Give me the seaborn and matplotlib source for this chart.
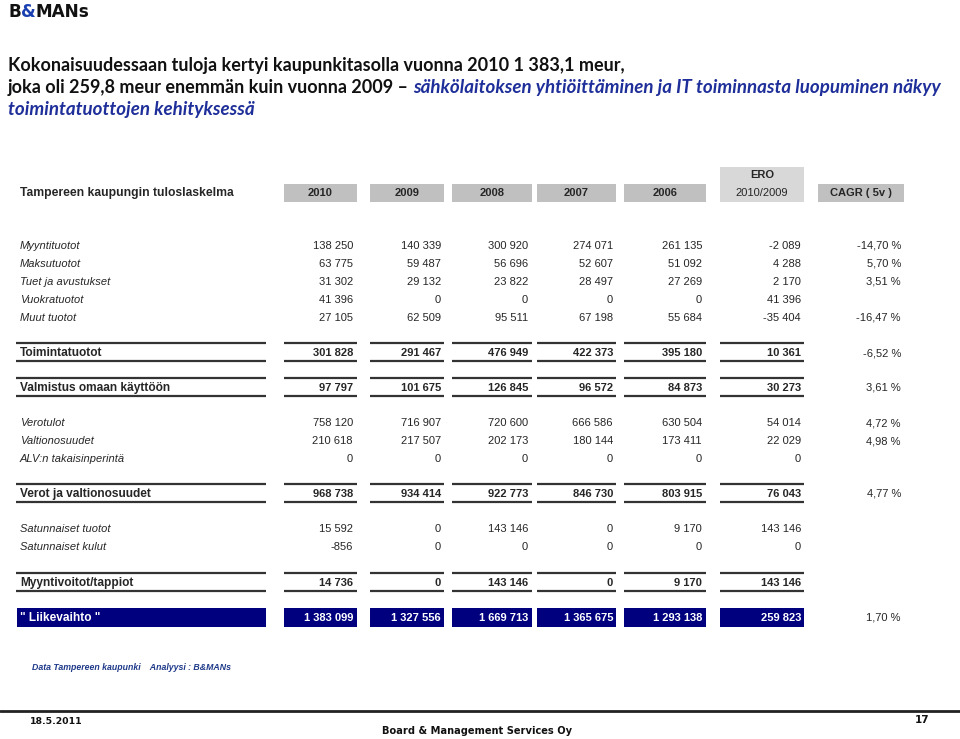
import matplotlib
matplotlib.use("Agg")
import matplotlib.pyplot as plt
import seaborn as sns
from matplotlib.patches import Rectangle

sns.set_theme(style="white")
plt.rcParams["font.family"] = ["Liberation Sans", "DejaVu Sans"]

# ---------------- data ----------------
years = ["2010", "2009", "2008", "2007", "2006"]
row_labels = ["Myyntituotot", "Maksutuotot", "Tuet ja avustukset", "Vuokratuotot", "Muut tuotot",
              "Toimintatuotot", "Valmistus omaan käyttöön",
              "Verotulot", "Valtionosuudet", "ALV:n takaisinperintä",
              "Verot ja valtionosuudet",
              "Satunnaiset tuotot", "Satunnaiset kulut",
              "Myyntivoitot/tappiot", "\" Liikevaihto \""]
row_kind = ["item", "item", "item", "item", "item",
            "total", "total",
            "item", "item", "item",
            "total",
            "item", "item",
            "total", "main"]
myyntituotot = [138250, 140339, 300920, 274071, 261135]
maksutuotot = [63775, 59487, 56696, 52607, 51092]
tuet = [31302, 29132, 23822, 28497, 27269]
vuokratuotot = [41396, 0, 0, 0, 0]
muut_tuotot = [27105, 62509, 95511, 67198, 55684]
toimintatuotot = [301828, 291467, 476949, 422373, 395180]
valmistus = [97797, 101675, 126845, 96572, 84873]
verotulot = [758120, 716907, 720600, 666586, 630504]
valtionosuudet = [210618, 217507, 202173, 180144, 173411]
alv = [0, 0, 0, 0, 0]
verot_valtion = [968738, 934414, 922773, 846730, 803915]
satunnaiset_tuotot = [15592, 0, 143146, 0, 9170]
satunnaiset_kulut = [-856, 0, 0, 0, 0]
myyntivoitot = [14736, 0, 143146, 0, 9170]
liikevaihto = [1383099, 1327556, 1669713, 1365675, 1293138]
ero = [-2089, 4288, 2170, 41396, -35404, 10361, 30273, 54014, 22029, 0, 76043,
       143146, 0, 143146, 259823]
cagr = [-14.70, 5.70, 3.51, None, -16.47, -6.52, 3.61, 4.72, 4.98, None, 4.77,
        None, None, None, 1.70]

table_values = [myyntituotot, maksutuotot, tuet, vuokratuotot, muut_tuotot,
                toimintatuotot, valmistus, verotulot, valtionosuudet, alv,
                verot_valtion, satunnaiset_tuotot, satunnaiset_kulut,
                myyntivoitot, liikevaihto]

# ---------------- layout ----------------
W, H = 960, 739
fig = plt.figure(figsize=(W / 100, H / 100), dpi=100)
ax = fig.add_axes([0, 0, 1, 1])
ax.set_xlim(0, W)
ax.set_ylim(H, 0)
ax.axis("off")
renderer = fig.canvas.get_renderer()


def width_px(t):
    return t.get_window_extent(renderer=renderer).width


def fitted(x, y, s, target_w, **kw):
    t = ax.text(x, y, s, **kw)
    w = width_px(t)
    t.set_fontsize(t.get_fontsize() * target_w / w)
    return t


def pieces(x, y, parts, **kw):
    """Draw consecutive coloured/styled runs of text starting at x."""
    for s, extra in parts:
        opts = dict(kw)
        opts.update(extra)
        t = ax.text(x, y, s, ha="left", **opts)
        x += width_px(t)
    return x


NAVY = "#00007f"
BLUE = "#1f2f9a"
GREY = "#c0c0c0"
LGREY = "#d8d8d8"
LINE = "#333333"

# logo
pieces(8, 12, [("B", {}), ("&", {"color": "#1a3fb0"}), ("MANs", {})],
       fontsize=12.2, fontweight="bold", family="DejaVu Sans", va="center", color="#111111")

# title
tkw = dict(fontweight="bold", family=["Lato", "DejaVu Sans"], va="center", ha="left", color="#111111")
t0 = fitted(8, 65, "Kokonaisuudessaan tuloja kertyi kaupunkitasolla vuonna 2010 1 383,1 meur,", 614, fontsize=12, **tkw)
tkw["fontsize"] = t0.get_fontsize()
t1 = ax.text(8, 87, "joka oli 259,8 meur enemmän kuin vuonna 2009 – ", **tkw)
x_end = 8 + width_px(t1)
ikw = {**tkw, "color": BLUE, "style": "italic"}
t2 = fitted(x_end, 87, "sähkölaitoksen yhtiöittäminen ja IT toiminnasta luopuminen näkyy",
            940 - x_end, **ikw)
ikw["fontsize"] = t2.get_fontsize()
ax.text(8, 109, "toimintatuottojen kehityksessä", **ikw)

# column boxes
col_left = [284, 370, 452, 537, 624, 720, 818]
col_right = [357, 444, 532, 616, 706, 804, 904]
num_right = [353, 441, 528, 613, 702, 801, 901]
hdr_top, hdr_bot = 184, 202

for i, yr in enumerate(years):
    ax.add_patch(Rectangle((col_left[i], hdr_top), col_right[i] - col_left[i], hdr_bot - hdr_top,
                           facecolor=GREY, edgecolor="none"))
    ax.text((col_left[i] + col_right[i]) / 2, 193, yr, fontsize=8, fontweight="bold",
            ha="center", va="center")
ax.add_patch(Rectangle((col_left[5], 167), col_right[5] - col_left[5], hdr_bot - 167,
                       facecolor=LGREY, edgecolor="none"))
ax.text((col_left[5] + col_right[5]) / 2, 175, "ERO", fontsize=8, fontweight="bold", ha="center", va="center")
ax.text((col_left[5] + col_right[5]) / 2, 193, "2010/2009", fontsize=8, ha="center", va="center")
ax.add_patch(Rectangle((col_left[6], hdr_top), col_right[6] - col_left[6], hdr_bot - hdr_top,
                       facecolor=GREY, edgecolor="none"))
ax.text((col_left[6] + col_right[6]) / 2, 193, "CAGR ( 5v )", fontsize=8, fontweight="bold",
        ha="center", va="center")
fitted(20, 193, "Tampereen kaupungin tuloslaskelma", 213, fontsize=8.3, fontweight="bold",
       ha="left", va="center")

row_y = [246, 264, 282, 300, 318, 353, 388, 423, 441, 459, 494, 529, 547, 583, 618]


def fmt(v):
    return f"{v:,}".replace(",", " ")


label_l, label_r = 16, 266
for r, (lab, kind, vals, y) in enumerate(zip(row_labels, row_kind, table_values, row_y)):
    cells = list(vals) + [ero[r]]
    if kind == "item":
        ax.text(20, y, lab, fontsize=8, style="italic", ha="left", va="center")
        for c, v in enumerate(cells):
            ax.text(num_right[c], y, fmt(v), fontsize=8, ha="right", va="center")
    elif kind == "total":
        for (l, rr) in [(label_l, label_r)] + list(zip(col_left[:6], col_right[:6])):
            ax.plot([l, rr], [y - 10, y - 10], color=LINE, lw=1.6, solid_capstyle="butt")
            ax.plot([l, rr], [y + 8, y + 8], color=LINE, lw=1.6, solid_capstyle="butt")
        ax.text(20, y, lab, fontsize=8.6, fontweight="bold", ha="left", va="center")
        for c, v in enumerate(cells):
            ax.text(num_right[c], y, fmt(v), fontsize=8, fontweight="bold", ha="right", va="center")
    else:
        for (l, rr) in [(17, label_r)] + list(zip(col_left[:6], col_right[:6])):
            ax.add_patch(Rectangle((l, y - 10), rr - l, 19, facecolor=NAVY, edgecolor="none"))
        ax.text(20, y, lab, fontsize=8.6, fontweight="bold", ha="left", va="center", color="white")
        for c, v in enumerate(cells):
            ax.text(num_right[c], y, fmt(v), fontsize=8, fontweight="bold", ha="right", va="center",
                    color="white")
    if cagr[r] is not None:
        s = f"{cagr[r]:.2f}".replace(".", ",") + " %"
        ax.text(num_right[6], y, s, fontsize=8, ha="right", va="center")

# footer
ax.text(32, 668, "Data Tampereen kaupunki    Analyysi : B&MANs", fontsize=6.3, fontweight="bold",
        style="italic", color="#1f3a8a", ha="left", va="center")
ax.plot([0, W], [711, 711], color="#222222", lw=2)
fkw = dict(fontweight="bold", family="DejaVu Sans", va="center", color="#111111")
fitted(30, 721, "18.5.2011", 52, fontsize=8, ha="left", **fkw)
fitted(382, 731, "Board & Management Services Oy", 189, fontsize=8, ha="left", **fkw)
ax.text(922, 720, "17", fontsize=7.5, ha="center", **fkw)

fig.savefig("out.png", dpi=100)
